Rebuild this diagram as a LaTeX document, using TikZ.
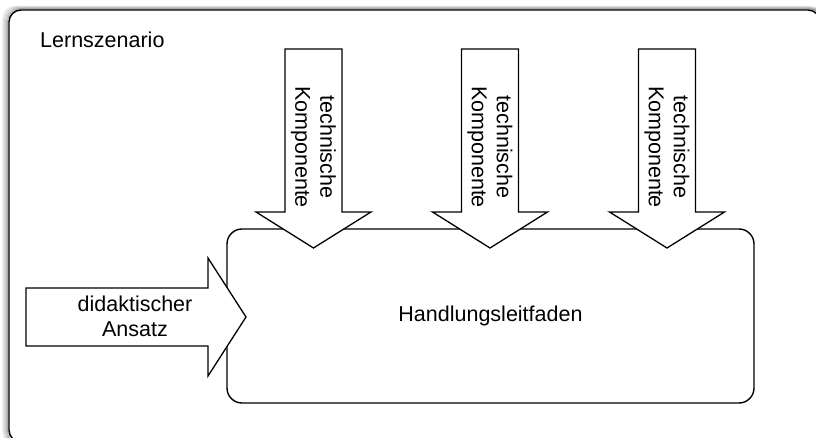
\documentclass[tikz,border=0pt]{standalone}
\usepackage{fontspec}
\setmainfont{Liberation Sans}
\usetikzlibrary{calc}
\begin{document}
\begin{tikzpicture}[x=1pt,y=-1pt,
  txt/.style={font=\fontsize{21.5}{25}\selectfont, align=center, inner sep=0pt},
  bigarrow/.style={draw=black, fill=white, line width=1.3pt, line join=miter},
  box/.style={draw=black, line width=1.4pt}]
\useasboundingbox (0,0) rectangle (816,438);
\begin{scope}
  \clip (0,0) rectangle (816,438);
  % soft shadow of the outer frame
  \foreach \d/\o in {6/0.05,5/0.07,4/0.09,3/0.12,2/0.16,1/0.2}{
    \draw[black, opacity=\o, line width=1.6pt, rounded corners=12pt]
      ({9-\d},{10-\d*0.6}) rectangle (822,444);
  }
  \draw[box, fill=white, rounded corners=12pt] (9,10) rectangle (820,442);
\end{scope}
\node[txt, anchor=west] (ls) at (40,40) {Lernszenario};
% inner box
\node[box, rounded corners=15pt, minimum width=527pt, minimum height=174pt, inner sep=0pt,
  font=\fontsize{21.5}{25}\selectfont] (hl) at (490.5,316) {Handlungsleitfaden};
% down arrows
\foreach \cx/\n in {313.5/a,490/b,667/c}{
  \coordinate (\n) at (\cx,49);
  \draw[bigarrow] ($(\n)+(-28.5,0)$) -- ($(\n)+(28.5,0)$) -- ($(\n)+(28.5,163)$)
     -- ($(\n)+(57.5,163)$) -- ($(\n)+(0,199)$) -- ($(\n)+(-57.5,163)$)
     -- ($(\n)+(-28.5,163)$) -- cycle;
  \node[txt, rotate=-90] (t\n) at ($(\n)+(0,98)$) {technische\\Komponente};
}
% left arrow
\coordinate (la) at (26,317);
\draw[bigarrow] ($(la)+(0,-29)$) -- ($(la)+(182,-29)$) -- ($(la)+(182,-59)$)
   -- ($(la)+(220,0)$) -- ($(la)+(182,59)$) -- ($(la)+(182,29)$)
   -- ($(la)+(0,29)$) -- cycle;
\node[txt] (da) at (135,316) {didaktischer\\Ansatz};
\end{tikzpicture}
\end{document}
